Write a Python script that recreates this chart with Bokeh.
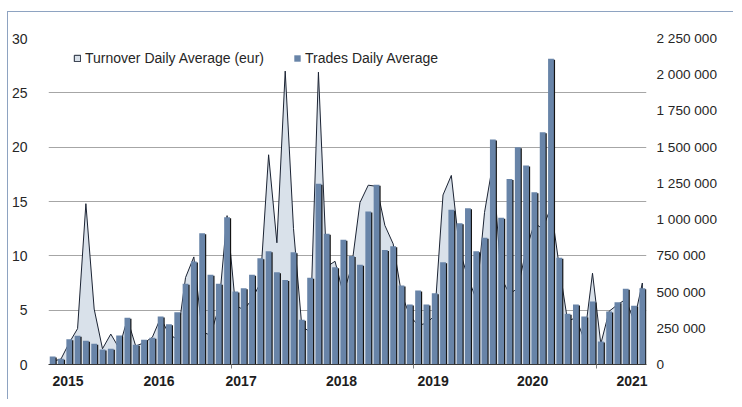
from bokeh.plotting import figure
from bokeh.models import Range1d, LinearAxis, FixedTicker, Legend, LegendItem
from bokeh.embed import file_html
from bokeh.resources import INLINE

# ---------------- data (monthly, 72 months) ----------------
trades = [
    55000, 40000, 175000, 198000, 164000, 143000, 104000, 108000, 200000, 322000,
    136000, 170000, 184000, 331000, 278000, 361000, 557000, 711000, 906000, 619000,
    557000, 1017000, 504000, 527000, 619000, 734000, 782000, 637000, 584000, 775000,
    308000, 598000, 1247000, 902000, 672000, 861000, 748000, 688000, 1056000, 1240000,
    791000, 817000, 545000, 414000, 511000, 414000, 492000, 706000, 1068000, 975000,
    1079000, 782000, 874000, 1553000, 1012000, 1281000, 1500000, 1373000, 1189000, 1603000,
    2110000, 736000, 350000, 414000, 331000, 435000, 159000, 366000, 430000, 522000,
    405000, 527000,
]
turnover = [
    0.3, 0.5, 2.0, 3.3, 14.8, 5.1, 1.45, 2.8, 1.5, 4.2,
    1.7, 2.0, 2.5, 4.3, 2.8, 2.3, 8.0, 9.9, 3.0, 2.7,
    5.2, 13.7, 5.5, 5.0, 6.0, 7.5, 19.3, 11.2, 27.0, 12.5,
    3.5, 3.0, 26.9, 9.0, 9.5, 6.5, 9.0, 14.9, 16.5, 16.4,
    12.8, 11.1, 6.5, 4.5, 3.6, 3.8, 4.5, 15.6, 17.4, 10.5,
    8.0, 6.0, 14.0, 18.5, 8.0, 6.5, 7.0, 10.5, 13.0, 12.5,
    14.5, 9.0, 4.0, 4.3, 2.3, 8.4, 1.9, 4.9, 5.5, 6.0,
    4.0, 7.5,
]
year_labels = ["2015", "2016", "2017", "2018", "2019", "2020", "2021"]
left_ticks = [0, 5, 10, 15, 20, 25, 30]
right_ticks = [0, 250000, 500000, 750000, 1000000, 1250000, 1500000, 1750000, 2000000, 2250000]

# ---------------- layout constants ----------------
year_pos = [2.35, 13.31, 23.19, 35.28, 46.31, 58.29, 70.25]
FONT = "Liberation Sans"
FS = "14px"
TXT = "#262626"
BAR = "#6884a8"
AREA = "#d9e1ea"
LINE = "#1b2333"

n = len(trades)
xc = [i + 0.5 for i in range(n)]

p = figure(
    width=726, height=388,
    x_range=Range1d(0, n), y_range=Range1d(0, 30),
    output_backend="svg", toolbar_location=None,
    min_border_left=35, min_border_right=88, min_border_top=26, min_border_bottom=36,
    background_fill_color="white", border_fill_color="white",
    outline_line_color=None,
    styles={"border-left": "1px solid #8ea3c1", "border-top": "1px solid #8ea3c1",
            "margin-top": "11px", "margin-left": "7px"},
)
p.extra_y_ranges = {"trades": Range1d(0, 2250000)}

# grid
p.xgrid.grid_line_color = None
p.ygrid.grid_line_color = "#a6a6a6"
p.ygrid.grid_line_width = 1
p.ygrid.ticker = FixedTicker(ticks=left_ticks)

# turnover area (behind bars)
px = [xc[0]] + xc + [xc[-1]]
py = [0] + turnover + [0]
area = p.patch(px, py, fill_color=AREA, line_color=LINE, line_width=1)

# bar shadows + bars
shadow_dx = 0.14
shadow_dy = 2250000 / 326.0
p.vbar(x=[v + shadow_dx for v in xc], top=[t - shadow_dy for t in trades], width=0.7,
       fill_color="#141414", line_color=None, y_range_name="trades")
bars = p.vbar(x=xc, top=trades, width=0.7, fill_color=BAR, line_color=None,
              y_range_name="trades")

# left axis
ya = p.yaxis[0]
ya.ticker = FixedTicker(ticks=left_ticks)
ya.axis_line_color = None
ya.major_tick_line_color = None
ya.minor_tick_line_color = None
ya.major_label_standoff = 15
ya.major_label_text_font = FONT
ya.major_label_text_font_size = FS
ya.major_label_text_color = TXT

# right axis
ra = LinearAxis(y_range_name="trades", ticker=FixedTicker(ticks=right_ticks))
ra.major_label_overrides = {t: f"{t:,}".replace(",", " ") for t in right_ticks}
ra.axis_line_color = None
ra.major_tick_line_color = None
ra.minor_tick_line_color = None
ra.major_label_standoff = 4
ra.major_label_text_font = FONT
ra.major_label_text_font_size = "13.6px"
ra.major_label_text_color = TXT
p.add_layout(ra, "right")

# bottom axis
xa = p.xaxis[0]
xa.ticker = FixedTicker(ticks=year_pos, minor_ticks=[22, 44, 66])
xa.major_label_overrides = {pos: lab for pos, lab in zip(year_pos, year_labels)}
xa.axis_line_color = "#3a3a3a"
xa.major_tick_line_color = None
xa.minor_tick_line_color = "#7f7f7f"
xa.minor_tick_in = 0
xa.minor_tick_out = 4
xa.major_label_standoff = 5
xa.major_label_text_font = FONT
xa.major_label_text_font_size = FS
xa.major_label_text_font_style = "bold"
xa.major_label_text_color = "#1e1e1e"

# legend
legend = Legend(
    items=[LegendItem(label="Turnover Daily Average (eur)", renderers=[area]),
           LegendItem(label="Trades Daily Average", renderers=[bars])],
    orientation="horizontal", location=(25, 298),
    glyph_width=8, glyph_height=8, label_standoff=4, spacing=29,
    padding=0, margin=0, border_line_color=None, background_fill_alpha=0,
    label_text_font=FONT, label_text_font_size=FS, label_text_color=TXT,
)
p.add_layout(legend)

open("out.html", "w").write(file_html(p, INLINE))
